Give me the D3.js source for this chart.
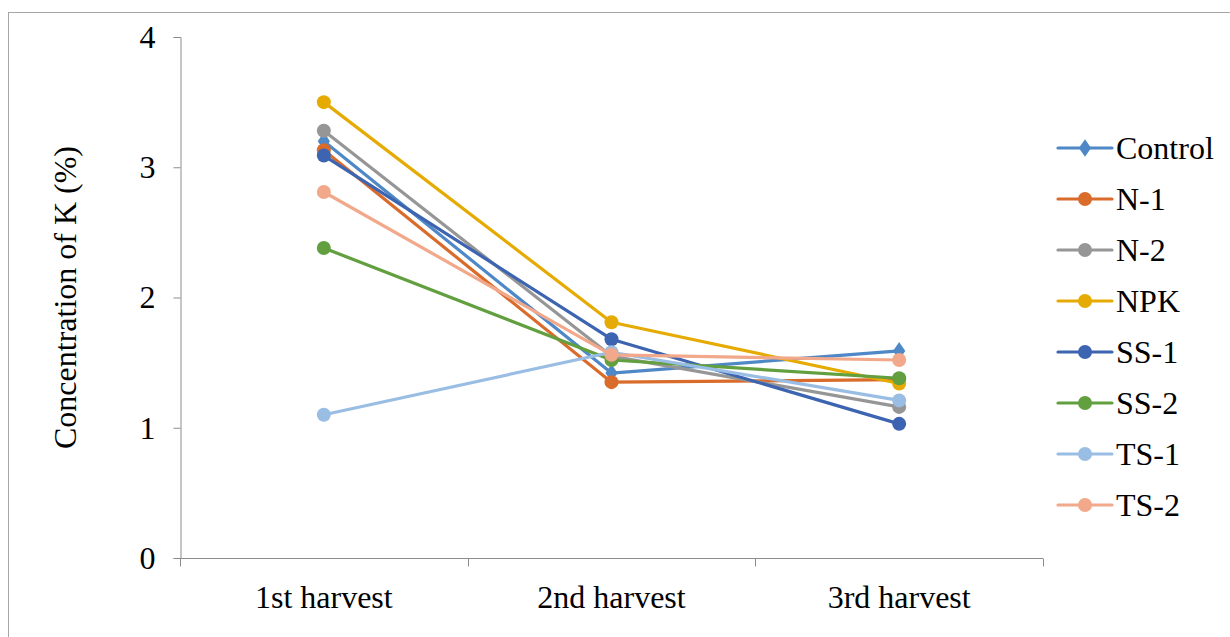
<!DOCTYPE html>
<html>
<head>
<meta charset="utf-8">
<script src="https://cdn.jsdelivr.net/npm/d3@7"></script>
<style>
  html, body { margin: 0; padding: 0; background: #fff; }
  svg { display: block; }
</style>
</head>
<body>
<svg id="chart" width="1230" height="637"></svg>
<script>
// Potassium concentration per harvest, one series per treatment
const harvests = ["1st harvest", "2nd harvest", "3rd harvest"];
const yTicks = [0, 1, 2, 3, 4];

const control = [3.20, 1.42, 1.59];
const n1      = [3.13, 1.35, 1.37];
const n2      = [3.28, 1.55, 1.16];
const npk     = [3.50, 1.81, 1.34];
const ss1     = [3.09, 1.68, 1.03];
const ss2     = [2.38, 1.52, 1.38];
const ts1     = [1.10, 1.58, 1.21];
const ts2     = [2.81, 1.56, 1.52];

const seriesNames  = ["Control", "N-1", "N-2", "NPK", "SS-1", "SS-2", "TS-1", "TS-2"];
const seriesValues = [control, n1, n2, npk, ss1, ss2, ts1, ts2];
const seriesColors = ["#4f88c6", "#d96b2b", "#969696", "#e6ab02", "#3d64b0", "#629f3f", "#9abde4", "#f2a88a"];

const FONT = "'Liberation Serif', Tinos, 'Times New Roman', 'DejaVu Serif', serif";
const FONT_SIZE = "32px";

const series = seriesNames.map((name, i) => ({
  name, values: seriesValues[i], color: seriesColors[i], diamond: i === 0
}));

const svg = d3.select("#chart");

// outer chart frame
svg.append("rect")
  .attr("x", 8.5).attr("y", 12.5)
  .attr("width", 1240).attr("height", 640)
  .attr("fill", "none").attr("stroke", "#a6a6a6").attr("stroke-width", 1);

const plot = { left: 180, right: 1043, top: 37, bottom: 558 };

const x = d3.scalePoint().domain(harvests).range([plot.left, plot.right]).padding(0.5);
const xBand = d3.scaleBand().domain(harvests).range([plot.left, plot.right]);
const y = d3.scaleLinear().domain([0, 4]).range([plot.bottom, plot.top]);

// y axis
const yAxis = svg.append("g")
  .attr("transform", `translate(${plot.left + 0.5},0)`)
  .call(d3.axisLeft(y).tickValues(yTicks).tickFormat(d3.format("d")).tickSizeOuter(0).tickSize(7).tickPadding(18));
yAxis.attr("font-family", null).attr("font-size", null);
yAxis.select(".domain").attr("stroke", "#8c8c8c");
yAxis.selectAll(".tick line").attr("stroke", "#8c8c8c");
yAxis.selectAll(".tick text")
  .style("font-family", FONT).style("font-size", FONT_SIZE).attr("fill", "#000");

// x axis with boundary ticks between categories
const xAxisG = svg.append("g").attr("transform", `translate(0,${plot.bottom + 0.5})`);
xAxisG.append("line")
  .attr("x1", plot.left).attr("x2", plot.right)
  .attr("stroke", "#8c8c8c");
const boundaries = harvests.map(h => xBand(h)).concat([plot.right]);
xAxisG.selectAll("line.bound").data(boundaries).join("line")
  .attr("class", "bound")
  .attr("x1", d => Math.round(d) + 0.5).attr("x2", d => Math.round(d) + 0.5)
  .attr("y1", 0).attr("y2", 8)
  .attr("stroke", "#8c8c8c");
xAxisG.selectAll("text").data(harvests).join("text")
  .attr("x", d => x(d)).attr("y", 49)
  .attr("text-anchor", "middle")
  .style("font-family", FONT).style("font-size", FONT_SIZE)
  .text(d => d);

// y axis title
svg.append("text")
  .attr("transform", `translate(76,${(plot.top + plot.bottom) / 2}) rotate(-90)`)
  .attr("text-anchor", "middle")
  .style("font-family", FONT).style("font-size", FONT_SIZE)
  .text("Concentration of K (%)");

const line = d3.line().x((d, i) => x(harvests[i])).y(d => y(d));
const diamond = d3.symbol().type(d3.symbolDiamond).size(90);

function drawMarker(g, s, cx, cy) {
  if (s.diamond) {
    g.append("path").attr("d", diamond).attr("transform", `translate(${cx},${cy}) scale(1.2,1)`)
      .attr("fill", s.color);
  } else {
    g.append("circle").attr("cx", cx).attr("cy", cy).attr("r", 7).attr("fill", s.color);
  }
}

// lines and markers, drawn series by series
const lines = svg.append("g");
series.forEach(s => {
  const g = lines.append("g");
  g.append("path")
    .attr("d", line(s.values))
    .attr("fill", "none").attr("stroke", s.color).attr("stroke-width", 3.2)
    .attr("stroke-linejoin", "round").attr("stroke-linecap", "round");
  s.values.forEach((v, i) => drawMarker(g, s, x(harvests[i]), y(v)));
});

// legend
const legend = svg.append("g");
series.forEach((s, i) => {
  const cy = 148 + i * 51;
  const g = legend.append("g");
  g.append("line")
    .attr("x1", 1058).attr("x2", 1112).attr("y1", cy).attr("y2", cy)
    .attr("stroke", s.color).attr("stroke-width", 3.2).attr("stroke-linecap", "round");
  drawMarker(g, s, 1085, cy);
  g.append("text")
    .attr("x", 1116).attr("y", cy).attr("dy", "0.35em")
    .style("font-family", FONT).style("font-size", FONT_SIZE)
    .text(s.name);
});
</script>
</body>
</html>
